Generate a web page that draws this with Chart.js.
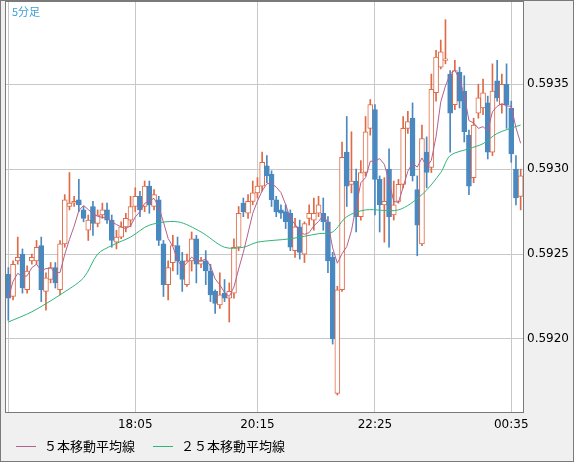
<!DOCTYPE html>
<html>
<head>
<meta charset="utf-8">
<script src="https://cdn.jsdelivr.net/npm/chart.js@4/dist/chart.umd.min.js"></script>
<style>
  html, body { margin: 0; padding: 0; background: #f0f0f0; }
  #wrap { width: 574px; height: 462px; position: relative; }
</style>
</head>
<body>
<div id="wrap"><canvas id="c"></canvas></div>
<script>
// 5分足 OHLC, oldest first
var opens = [.59238,.59225,.59246,.5925,.59229,.59246,.59246,.59255,.59228,.59235,
  .59242,.59229,.59256,.59278,.5928,.59282,.59276,.59264,.59278,.59268,
  .59273,.59276,.5927,.59257,.5926,.59266,.5927,.59278,.59284,.59278,
  .5929,.59278,.59282,.59256,.59232,.59245,.59255,.59246,.59232,.59246,
  .59259,.59244,.59246,.5924,.59228,.5922,.59227,.59224,.59227,.59254,
  .5928,.59274,.59281,.59286,.5929,.59302,.59297,.59282,.59276,.59275,
  .59274,.59252,.59266,.5925,.59271,.5927,.59274,.59274,.59269,.59248,
  .59168,.59229,.5931,.59291,.59293,.59272,.59298,.59324,.59335,.59294,
  .59279,.593,.59273,.59281,.59291,.59324,.5933,.59288,.59256,.5931,
  .59301,.59345,.5936,.59364,.59356,.59338,.59357,.59346,.5932,.59295,
  .59333,.59336,.59339,.5931,.59352,.59338,.5935,.59336,.593,.59284];
var closes = [.59224,.59244,.59248,.5923,.5924,.59248,.59254,.59229,.59236,.59242,
  .59233,.59256,.59282,.5928,.59281,.59279,.59271,.5927,.59268,.59273,
  .59276,.5927,.59258,.5926,.59266,.59271,.59278,.59284,.59276,.5929,
  .59279,.59285,.59258,.59232,.59242,.59255,.59246,.59235,.59246,.59259,
  .59244,.59246,.5924,.59226,.59221,.59226,.59224,.59228,.59254,.59274,
  .59275,.59281,.59286,.5929,.59304,.59296,.59282,.59275,.59274,.59269,
  .59254,.59266,.59251,.59268,.59274,.59274,.59279,.59269,.59246,.592,
  .59229,.59307,.5929,.59293,.59272,.59298,.59322,.59338,.59294,.59279,
  .59281,.59272,.59279,.59291,.59324,.59328,.59296,.59267,.59318,.59298,
  .59347,.59366,.59369,.59365,.59333,.59358,.5934,.59322,.5929,.59326,
  .59342,.59345,.5931,.59346,.59342,.5935,.59338,.59309,.59283,.59296];
var highs = [.59242,.59246,.5926,.59253,.59243,.5925,.59258,.5926,.59239,.59245,
  .59245,.59258,.59285,.59298,.59284,.59294,.59278,.59273,.59281,.59276,
  .5928,.5928,.59273,.59264,.59269,.59274,.59284,.59289,.59287,.59293,
  .59293,.59288,.59284,.59258,.59246,.59261,.5926,.59251,.5925,.59263,
  .59261,.59248,.59252,.59244,.59229,.59239,.59235,.59233,.59259,.59278,
  .59283,.59285,.59293,.59295,.5931,.59308,.59299,.59284,.59279,.59279,
  .59276,.59271,.5927,.59269,.59279,.59283,.59284,.59283,.59272,.59251,
  .59231,.59316,.59331,.59322,.593,.59305,.59331,.59341,.59338,.59296,
  .59295,.59312,.59293,.59294,.59331,.59334,.59339,.59296,.59326,.59319,
  .59356,.5937,.59376,.59388,.59358,.59364,.5936,.59355,.59323,.5933,
  .5935,.59353,.59343,.59362,.59364,.59356,.59362,.5934,.59308,.593];
var lows = [.59211,.59223,.59244,.59227,.59227,.59244,.59244,.59222,.59217,.59233,
  .5923,.59226,.59254,.59276,.59278,.59275,.59269,.59258,.59261,.59266,
  .59271,.59268,.59254,.59253,.59259,.59263,.59266,.59275,.59272,.59275,
  .59274,.59276,.59255,.59225,.59223,.5924,.59238,.59228,.59231,.5924,
  .59233,.59242,.59232,.59222,.59215,.59218,.59222,.5921,.59224,.59252,
  .59272,.59271,.59279,.59283,.59287,.59292,.59278,.59272,.59271,.59265,
  .59252,.59248,.59247,.59245,.59267,.59264,.59272,.59264,.59239,.59197,
  .59167,.59228,.59278,.59286,.59263,.5927,.59296,.5932,.59273,.59263,
  .59257,.59254,.5927,.5928,.59289,.59321,.59293,.59249,.59255,.59289,
  .59298,.5934,.59359,.59362,.5931,.59335,.59336,.59316,.59285,.59292,
  .5933,.59332,.59306,.59308,.5934,.59333,.59324,.59304,.59279,.59276];

// 25本移動平均線: read at a few candles, the line joins them
var ma25Idx = [0,5,11,16,19,22,26,30,36,41,46,50,53,60,66,69,72,76,83,88,92,94,98,101,104,109];
var ma25Val = [.5921,.59216,.59226,.59236,.5925,.59255,.5926,.59267,.59269,.59263,.59254,.59254,.59257,
  .59259,.59262,.59263,.59272,.59276,.59276,.59285,.59298,.59308,.59312,.59315,.59321,.59326];

var tickLabels = { 27: '18:05', 53: '20:15', 78: '22:25', 107: '00:35' };
var gridIdx = [0, 27, 53, 78, 107];
var yTicks = [0.5920, 0.5925, 0.5930, 0.5935];

var UP = '#df6a45', DOWN = '#4a88c0', MA5C = '#b3628f', MA25C = '#2fb57a';

var labels = closes.map(function(v, i) { return i; });

var ma5 = closes.map(function(v, i) {
  var s = 0, k = 0;
  for (var j = Math.max(0, i - 4); j <= i; j++) { s += closes[j]; k++; }
  return s / k;
});
var ma25 = closes.map(function() { return null; });
ma25Idx.forEach(function(ix, k) { ma25[ix] = ma25Val[k]; });

var isUp = closes.map(function(c, i) { return c >= opens[i]; });

var frame = {
  id: 'frame',
  beforeDraw: function(chart) {
    var ctx = chart.ctx, a = chart.chartArea;
    ctx.save();
    ctx.fillStyle = '#f0f0f0';
    ctx.fillRect(0, 0, chart.width, chart.height);
    ctx.fillStyle = '#fff';
    ctx.fillRect(a.left, a.top, a.right - a.left, a.bottom - a.top);
    ctx.restore();
  },
  afterDraw: function(chart) {
    var ctx = chart.ctx, a = chart.chartArea;
    ctx.save();
    ctx.strokeStyle = '#7a7a7a';
    ctx.lineWidth = 1;
    ctx.strokeRect(0.5, 0.5, chart.width - 1, chart.height - 1);
    ctx.strokeRect(a.left - 0.5, a.top + 0.5, a.right - a.left + 1, a.bottom - a.top);
    ctx.fillStyle = '#3aa0d8';
    ctx.font = '11px "Noto Sans CJK JP", sans-serif';
    ctx.textBaseline = 'middle';
    ctx.fillText('5分足', 12, 12);
    // legend
    var items = [['５本移動平均線', MA5C, 16], ['２５本移動平均線', MA25C, 153]];
    ctx.font = '13px "Noto Sans CJK JP", sans-serif';
    items.forEach(function(it) {
      ctx.strokeStyle = it[1];
      ctx.beginPath();
      ctx.moveTo(it[2], 446.5); ctx.lineTo(it[2] + 20, 446.5);
      ctx.stroke();
      ctx.fillStyle = '#000';
      ctx.fillText(it[0], it[2] + 28, 446);
    });
    ctx.restore();
  }
};

new Chart(document.getElementById('c'), {
  type: 'bar',
  data: {
    labels: labels,
    datasets: [
      { type: 'line', label: '５本移動平均線', data: ma5, borderColor: MA5C, borderWidth: 1,
        pointRadius: 0, tension: 0, order: 0 },
      { type: 'line', label: '２５本移動平均線', data: ma25, borderColor: MA25C, borderWidth: 1,
        pointRadius: 0, tension: 0.3, spanGaps: true, order: 0 },
      { label: 'body', data: closes.map(function(c, i) { return [opens[i], c]; }),
        backgroundColor: isUp.map(function(u) { return u ? '#fff' : DOWN; }),
        borderColor: isUp.map(function(u) { return u ? UP : DOWN; }),
        borderWidth: 1, borderSkipped: false, barThickness: 5, grouped: false, order: 1 },
      { label: 'wick', data: highs.map(function(h, i) { return [lows[i], h]; }),
        backgroundColor: isUp.map(function(u) { return u ? UP : DOWN; }),
        barThickness: 1, grouped: false, order: 2 }
    ]
  },
  options: {
    responsive: true,
    maintainAspectRatio: false,
    animation: false,
    layout: { padding: { left: 6, top: 1, right: 0, bottom: 24 } },
    plugins: { legend: { display: false }, tooltip: { enabled: false } },
    scales: {
      x: {
        offset: true,
        grid: { offset: false, drawTicks: false,
          color: function(c) { return gridIdx.indexOf(c.index) >= 0 ? '#c8c8c8' : 'transparent'; } },
        border: { display: false },
        ticks: { autoSkip: false, maxRotation: 0, padding: 6, color: '#000',
          font: { family: 'DejaVu Sans', size: 12 },
          callback: function(v, i) { return tickLabels[i] || ''; } },
        afterFit: function(s) { s.height = 26; s.paddingLeft = 0; s.paddingRight = 0; }
      },
      y: {
        position: 'right',
        min: 0.59157, max: 0.59399,
        afterBuildTicks: function(s) { s.ticks = yTicks.map(function(v) { return { value: v }; }); },
        grid: { color: '#c8c8c8', drawTicks: false },
        border: { display: false },
        ticks: { color: '#000', padding: 4, font: { family: 'DejaVu Sans', size: 12 },
          callback: function(v) { return v.toFixed(4); } },
        afterFit: function(s) { s.width = 51; s.paddingTop = 0; s.paddingBottom = 0; }
      }
    }
  },
  plugins: [frame]
});
</script>
</body>
</html>
